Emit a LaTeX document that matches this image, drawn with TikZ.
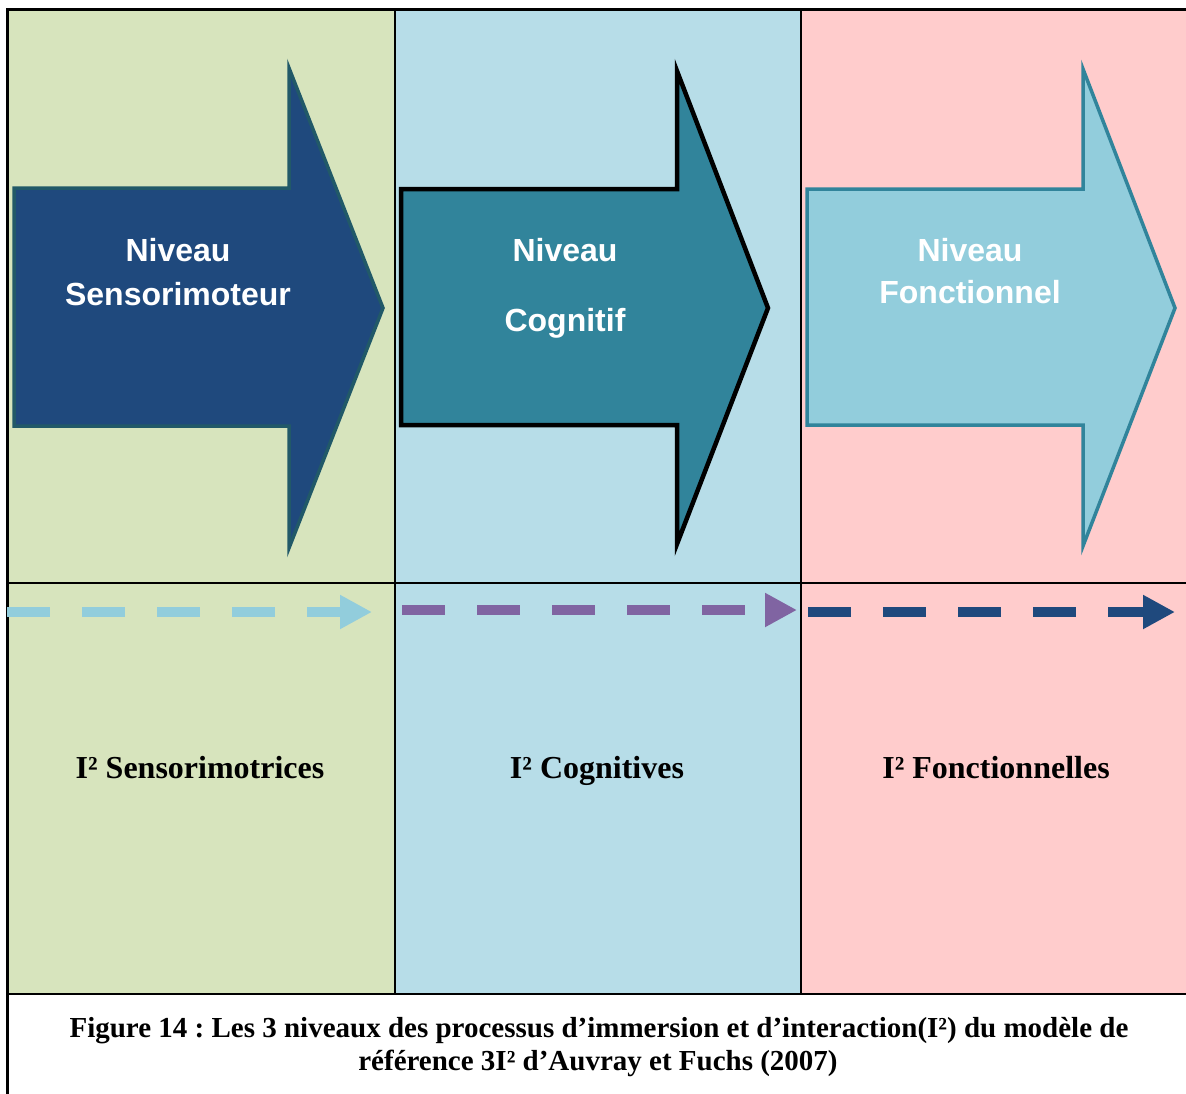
\documentclass[tikz,border=0pt]{standalone}
\usepackage{fontspec}
\setmainfont{Liberation Serif}
\newfontfamily\arialfont{Liberation Sans}
\usepackage{xcolor}
\usetikzlibrary{arrows.meta}
\frenchspacing
\definecolor{colgreen}{HTML}{D7E4BD}
\definecolor{colblue}{HTML}{B7DDE8}
\definecolor{colpink}{HTML}{FFCCCC}
\definecolor{navy}{HTML}{1F497D}
\definecolor{navyline}{HTML}{215968}
\definecolor{teal}{HTML}{31849B}
\definecolor{sky}{HTML}{92CDDC}
\definecolor{violet}{HTML}{8064A2}
\tikzset{
  frame/.style={draw=black, line width=2pt},
  bigarrow/.style={line width=3.5pt, line join=miter},
  lvl/.style={text=white, font=\arialfont\bfseries\fontsize{32}{38}\selectfont, anchor=base},
  imm/.style={text=black, font=\bfseries\fontsize{32}{36}\selectfont, anchor=base},
  flow/.style={line width=10pt, dash pattern=on 43pt off 32pt, -{Triangle[length=32pt,width=32pt]}},
  capt/.style={text=black, font=\bfseries\fontsize{29}{34}\selectfont, anchor=base},
}

\begin{document}
\begin{tikzpicture}[x=1pt, y=-1pt]
  \useasboundingbox (0,0) rectangle (1186,1093);
  \clip (0,0) rectangle (1186,1093);
  % column backgrounds
  \fill[colgreen] (7,9) rectangle (395,994);
  \fill[colblue] (395,9) rectangle (801,994);
  \fill[colpink] (801,9) rectangle (1190,994);
  % grid
  \draw[frame, line width=3pt] (7,1100) -- (7,9) -- (1190,9);
  \draw[frame] (395,9) -- (395,994);
  \draw[frame] (801,9) -- (801,994);
  \draw[frame] (7,583) -- (1190,583);
  \draw[frame] (7,994) -- (1190,994);
  % big arrows
  \draw[bigarrow, draw=navyline, fill=navy] (14,188) -- (289,188) -- (289,68) -- (383,308)
    -- (289,548) -- (289,426) -- (14,426) -- cycle;
  \draw[bigarrow, draw=black, line width=4.5pt, fill=teal] (401,189) -- (677,189) -- (677,71) -- (768,308)
    -- (677,544) -- (677,425) -- (401,425) -- cycle;
  \draw[bigarrow, draw=teal, fill=sky] (807,189) -- (1083,189) -- (1083,69) -- (1175,308)
    -- (1083,546) -- (1083,425) -- (807,425) -- cycle;
  \node[lvl] (sensA) at (178,261) {Niveau};
  \node[lvl] (sensB) at (178,305) {Sensorimoteur};
  \node[lvl] (cogA) at (565,261) {Niveau};
  \node[lvl] (cogB) at (565,331) {Cognitif};
  \node[lvl] (foncA) at (970,261) {Niveau};
  \node[lvl] (foncB) at (970,303) {Fonctionnel};
  % dashed flows
  \coordinate (s1) at (7,612);
  \coordinate (e1) at (372,612);
  \coordinate (s2) at (402,610);
  \coordinate (e2) at (797,610);
  \coordinate (s3) at (808,612);
  \coordinate (e3) at (1175,612);
  \draw[flow, draw=sky] (s1) -- (e1);
  \draw[flow, draw=violet] (s2) -- (e2);
  \draw[flow, draw=navy] (s3) -- (e3);
  \node[imm] (immA) at (200,778) {I² Sensorimotrices};
  \node[imm] (immB) at (597,778) {I² Cognitives};
  \node[imm] (immC) at (996,778) {I² Fonctionnelles};
  % caption
  \node[capt] (capA) at (599,1037) {Figure 14 : Les 3 niveaux des processus d’immersion et d’interaction(I²) du modèle de};
  \node[capt] (capB) at (598,1070) {référence 3I² d’Auvray et Fuchs (2007)};
\end{tikzpicture}
\end{document}
